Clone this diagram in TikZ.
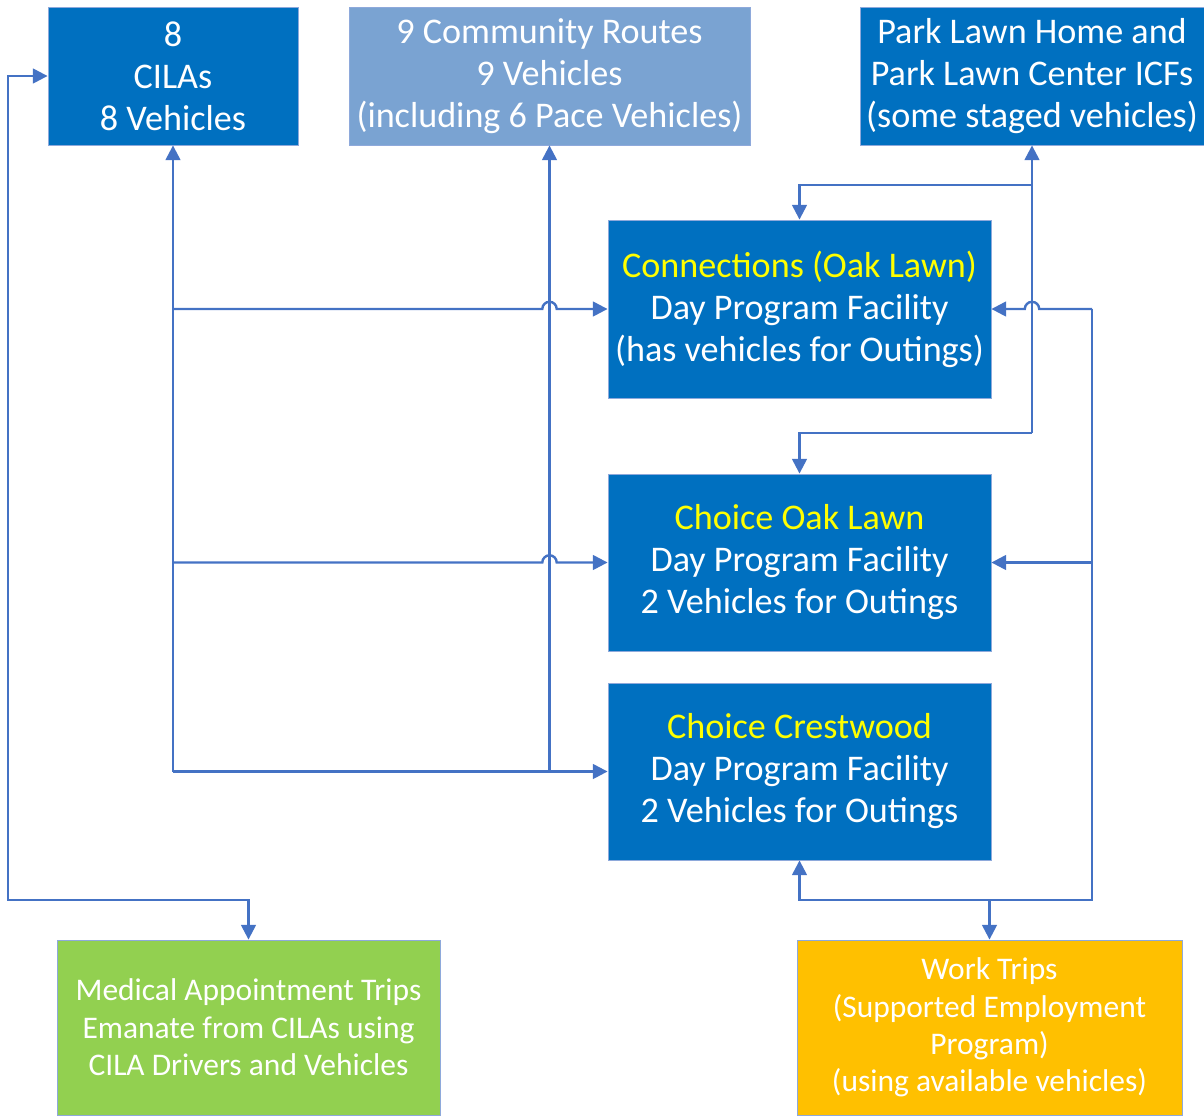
\documentclass[tikz,border=0pt]{standalone}
\usepackage{fontspec}
\setmainfont{Carlito}
\usepackage{xcolor}
\usetikzlibrary{arrows.meta,positioning}
\definecolor{tripblue}{HTML}{0070C0}
\definecolor{tripsoft}{HTML}{7AA3D2}
\definecolor{tripedge}{HTML}{8EA9DB}
\definecolor{tripline}{HTML}{4472C4}
\definecolor{tripgreen}{HTML}{92D050}
\definecolor{tripgold}{HTML}{FFC000}
\definecolor{triptitle}{HTML}{FFFF00}

\begin{document}
\begin{tikzpicture}[
        site/.style={
            draw=tripedge,
            line width=0.6pt,
            fill=tripblue,
            text=white,
            align=center,
            inner sep=0pt,
            font=\fontsize{25.7}{29.9}\selectfont
        },
        trip/.style={
            site,
            text=white,
            font=\fontsize{22.4}{26.6}\selectfont
        },
        link/.style={-{Triangle[length=0.37cm,width=0.37cm]},line width=1.7pt,tripline},
        twolink/.style={link,{Triangle[length=0.37cm,width=0.37cm]}-{Triangle[length=0.37cm,width=0.37cm]}},
        hop/.store in=\hoprad, hop=0.18cm
    ]
        \useasboundingbox (0,0) rectangle (30.1,-27.875);

        \node[site,minimum width=6.25cm,minimum height=3.45cm] (cilas) at (4.325,-1.9) {8\\CILAs\\8 Vehicles};
        \node[site,fill=tripsoft,minimum width=10.025cm,minimum height=3.45cm] (comm) at (13.7375,-1.9) {9 Community Routes\\9 Vehicles\\(including 6 Pace Vehicles)};
        \node[site,minimum width=8.6cm,minimum height=3.45cm] (park) at (25.8,-1.9) {Park Lawn Home and\\Park Lawn Center ICFs\\(some staged vehicles)};

        \node[site,minimum width=9.575cm,minimum height=4.45cm] (conn) at (19.9875,-7.725) {\textcolor{triptitle}{Connections (Oak Lawn)}\\Day Program Facility\\(has vehicles for Outings)};
        \node[site,minimum width=9.575cm,minimum height=4.425cm] (oak) at (19.9875,-14.0625) {\textcolor{triptitle}{Choice Oak Lawn}\\Day Program Facility\\2 Vehicles for Outings};
        \node[site,minimum width=9.575cm,minimum height=4.425cm] (crest) at (19.9875,-19.2875) {\textcolor{triptitle}{Choice Crestwood}\\Day Program Facility\\2 Vehicles for Outings};

        \node[trip,fill=tripgreen,minimum width=9.575cm,minimum height=4.375cm] (med) at (6.2125,-25.6875) {Medical Appointment Trips\\Emanate from CILAs using\\CILA Drivers and Vehicles};
        \node[trip,fill=tripgold,minimum width=9.625cm,minimum height=4.375cm] (work) at (24.7375,-25.6875) {Work Trips\\(Supported Employment\\Program)\\(using available vehicles)};

        \coordinate (lbus) at (0.2,-22.5);
        \coordinate (rbus) at (27.3,-22.5);
        \coordinate (pfork) at (park.south |- 0,-4.625);
        \coordinate (pend) at (park.south |- 0,-10.825);

        % CILA and community trunks
        \draw[link] (cilas.south |- crest.west) -- (cilas.south);
        \draw[link] (comm.south |- crest.west) -- (comm.south);
        \draw[link] (cilas.south |- conn.west) -- ([xshift=-\hoprad]comm.south |- conn.west)
            arc[start angle=180,end angle=0,radius=\hoprad] -- (conn.west);
        \draw[link] (cilas.south |- oak.west) -- ([xshift=-\hoprad]comm.south |- oak.west)
            arc[start angle=180,end angle=0,radius=\hoprad] -- (oak.west);
        \draw[link] (cilas.south |- crest.west) -- (crest.west);

        % Park Lawn trunk
        \draw[link] (pend) -- (park.south);
        \draw[link] (pfork) -| (conn.north);
        \draw[link] (pend) -| (oak.north);

        % work trip bus on the right
        \draw[link] (rbus |- conn.east) -- ([xshift=\hoprad]park.south |- conn.east)
            arc[start angle=0,end angle=180,radius=\hoprad] -- (conn.east);
        \draw[link] (rbus |- oak.east) -- (oak.east);
        \draw[link] (rbus |- conn.east) -- (rbus) -| (crest.south);
        \draw[link] (work.north |- rbus) -- (work.north);

        % medical trips
        \draw[twolink] (med.north) |- (lbus) |- (cilas.west);
    \end{tikzpicture}
\end{document}
